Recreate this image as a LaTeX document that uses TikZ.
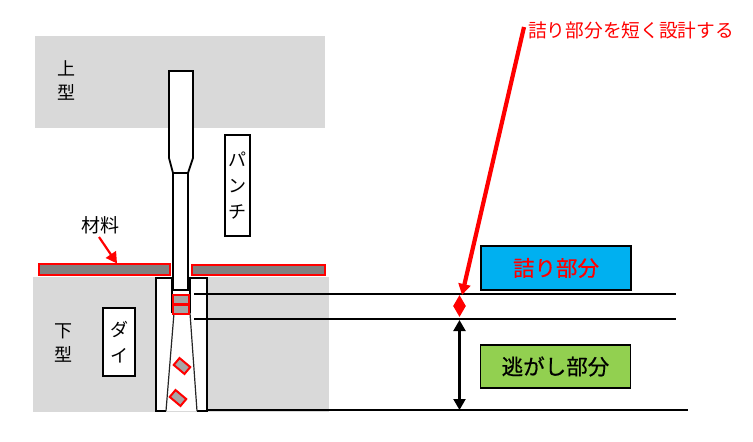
\documentclass[tikz,border=0pt]{standalone}
\usepackage{fontspec}
\setmainfont{Noto Sans CJK JP}
\newfontfamily\zonefont[FakeBold=0.5]{Noto Sans CJK JP}
\usetikzlibrary{arrows.meta}
\definecolor{toolgray}{RGB}{217,217,217}
\definecolor{stripgray}{RGB}{128,128,128}
\definecolor{sluggray}{RGB}{166,166,166}
\definecolor{zoneblue}{RGB}{0,176,240}
\definecolor{zonegreen}{RGB}{146,208,80}
\tikzset{
    tool/.style={fill=toolgray,draw=none,minimum width=#1,inner sep=0pt,outer sep=0pt,anchor=north west},
    toollabel/.style={align=center,font=\fontsize{18}{24}\selectfont,inner sep=0pt},
    namebox/.style={draw=black,line width=1.8pt,fill=white,align=center,inner sep=0pt,font=\fontsize{18}{26}\selectfont},
    zonebox/.style={draw=black,line width=1.8pt,minimum width=150pt,inner sep=0pt,font=\zonefont\fontsize{21.5}{24}\selectfont},
    stripbox/.style={draw=red,line width=1.8pt,fill=stripgray,inner sep=0pt,outer sep=0pt,anchor=north west},
    slug/.style={draw=red,line width=2pt,fill=sluggray,inner sep=0pt,minimum width=#1,minimum height=9pt},
    outline/.style={draw=black,line width=1.8pt,line join=miter},
    taperline/.style={draw=black!85,line width=1.2pt},
    levelline/.style={draw=black,line width=1.8pt},
    callout/.style={draw=red,line width=2.2pt,-{Triangle[length=11pt,width=12pt]}},
    spanline/.style={line width=2.2pt,{Triangle[length=11pt,width=12pt]}-{Triangle[length=11pt,width=12pt]}}
}

\begin{document}
\begin{tikzpicture}[x=1pt,y=-1pt]
    \useasboundingbox (0,0) rectangle (753,442);
    \pgfmathsetmacro{\levelA}{294}
    \pgfmathsetmacro{\levelB}{319}
    \pgfmathsetmacro{\levelC}{410}
    % dies
    \node[tool=290pt,minimum height=92pt] (upper) at (35,36) {};
    \node[tool=296pt,minimum height=135pt] (lower) at (33,277) {};
    \node[toollabel] (upperlabel) at (66,80) {上\\型};
    \node[toollabel] (lowerlabel) at (63,343) {下\\型};
    % material
    \node[stripbox,minimum width=131pt,minimum height=11pt] (stripL) at (39,264) {};
    \node[stripbox,minimum width=133pt,minimum height=10pt] (stripR) at (192,265) {};
    % die outline
    \fill[white] (156,278) rectangle (207,411);
    \draw[outline] (172,313) -- (172,278) -- (156,278) -- (156,411) -- (166,411);
    \draw[outline] (190,313) -- (190,278) -- (207,278) -- (207,411) -- (197,411);
    \draw[taperline] (174,313) -- (166,411);
    \draw[taperline] (190,313) -- (197,411);
    % punch
    \draw[outline,fill=white] (169,158) -- (169,71) -- (193,71) -- (193,158) -- (188,173) -- (188,290) -- (173,290) -- (173,173) -- cycle;
    \draw[outline] (173,173) -- (188,173);
    % slugs
    \node[slug=16pt] (slugA) at (181,299.5) {};
    \node[slug=16pt] (slugB) at (181,309) {};
    \node[slug=14pt,rotate=-40] (slugC) at (182,366) {};
    \node[slug=14pt,rotate=-40] (slugD) at (178,398) {};
    % names
    \node[namebox,minimum width=25pt,minimum height=101pt] (punchname) at (237.5,185.5) {パ\\ン\\チ};
    \node[namebox,minimum width=32pt,minimum height=68pt] (diename) at (119,342) {ダ\\イ};
    \node[font=\fontsize{19}{22}\selectfont,inner sep=0pt] (material) at (100,225) {材料};
    % levels
    \coordinate (a0) at (194,\levelA);
    \coordinate (a1) at (676,\levelA);
    \coordinate (b0) at (194,\levelB);
    \coordinate (b1) at (676,\levelB);
    \coordinate (c0) at (207,\levelC);
    \coordinate (c1) at (688,\levelC);
    \draw[levelline] (a0) -- (a1);
    \draw[levelline] (b0) -- (b1);
    \draw[levelline] (c0) -- (c1);
    \coordinate (m0) at (459.5,295);
    \coordinate (m1) at (459.5,317);
    \coordinate (m2) at (459.5,320);
    \coordinate (m3) at (459.5,410);
    \draw[spanline,draw=red,fill=red] (m0) -- (m1);
    \draw[spanline,draw=black,fill=black] (m2) -- (m3);
    % zones
    \node[zonebox,fill=zoneblue,text=red,minimum height=44pt] (tight) at (556,268) {詰り部分};
    \node[zonebox,fill=zonegreen,minimum height=43pt] (relief) at (555.5,366.5) {逃がし部分};
    % notes
    \node[text=red,font=\fontsize{18.7}{22}\selectfont,inner sep=0pt,anchor=west] (note) at (528,30) {詰り部分を短く設計する};
    \coordinate (noteend) at (524,27);
    \coordinate (notetip) at (462,295);
    \draw[callout,line width=4.2pt] (noteend) -- (notetip);
    \coordinate (materialend) at (99,237);
    \coordinate (materialtip) at (117,263.5);
    \draw[callout] (materialend) -- (materialtip);
\end{tikzpicture}
\end{document}
